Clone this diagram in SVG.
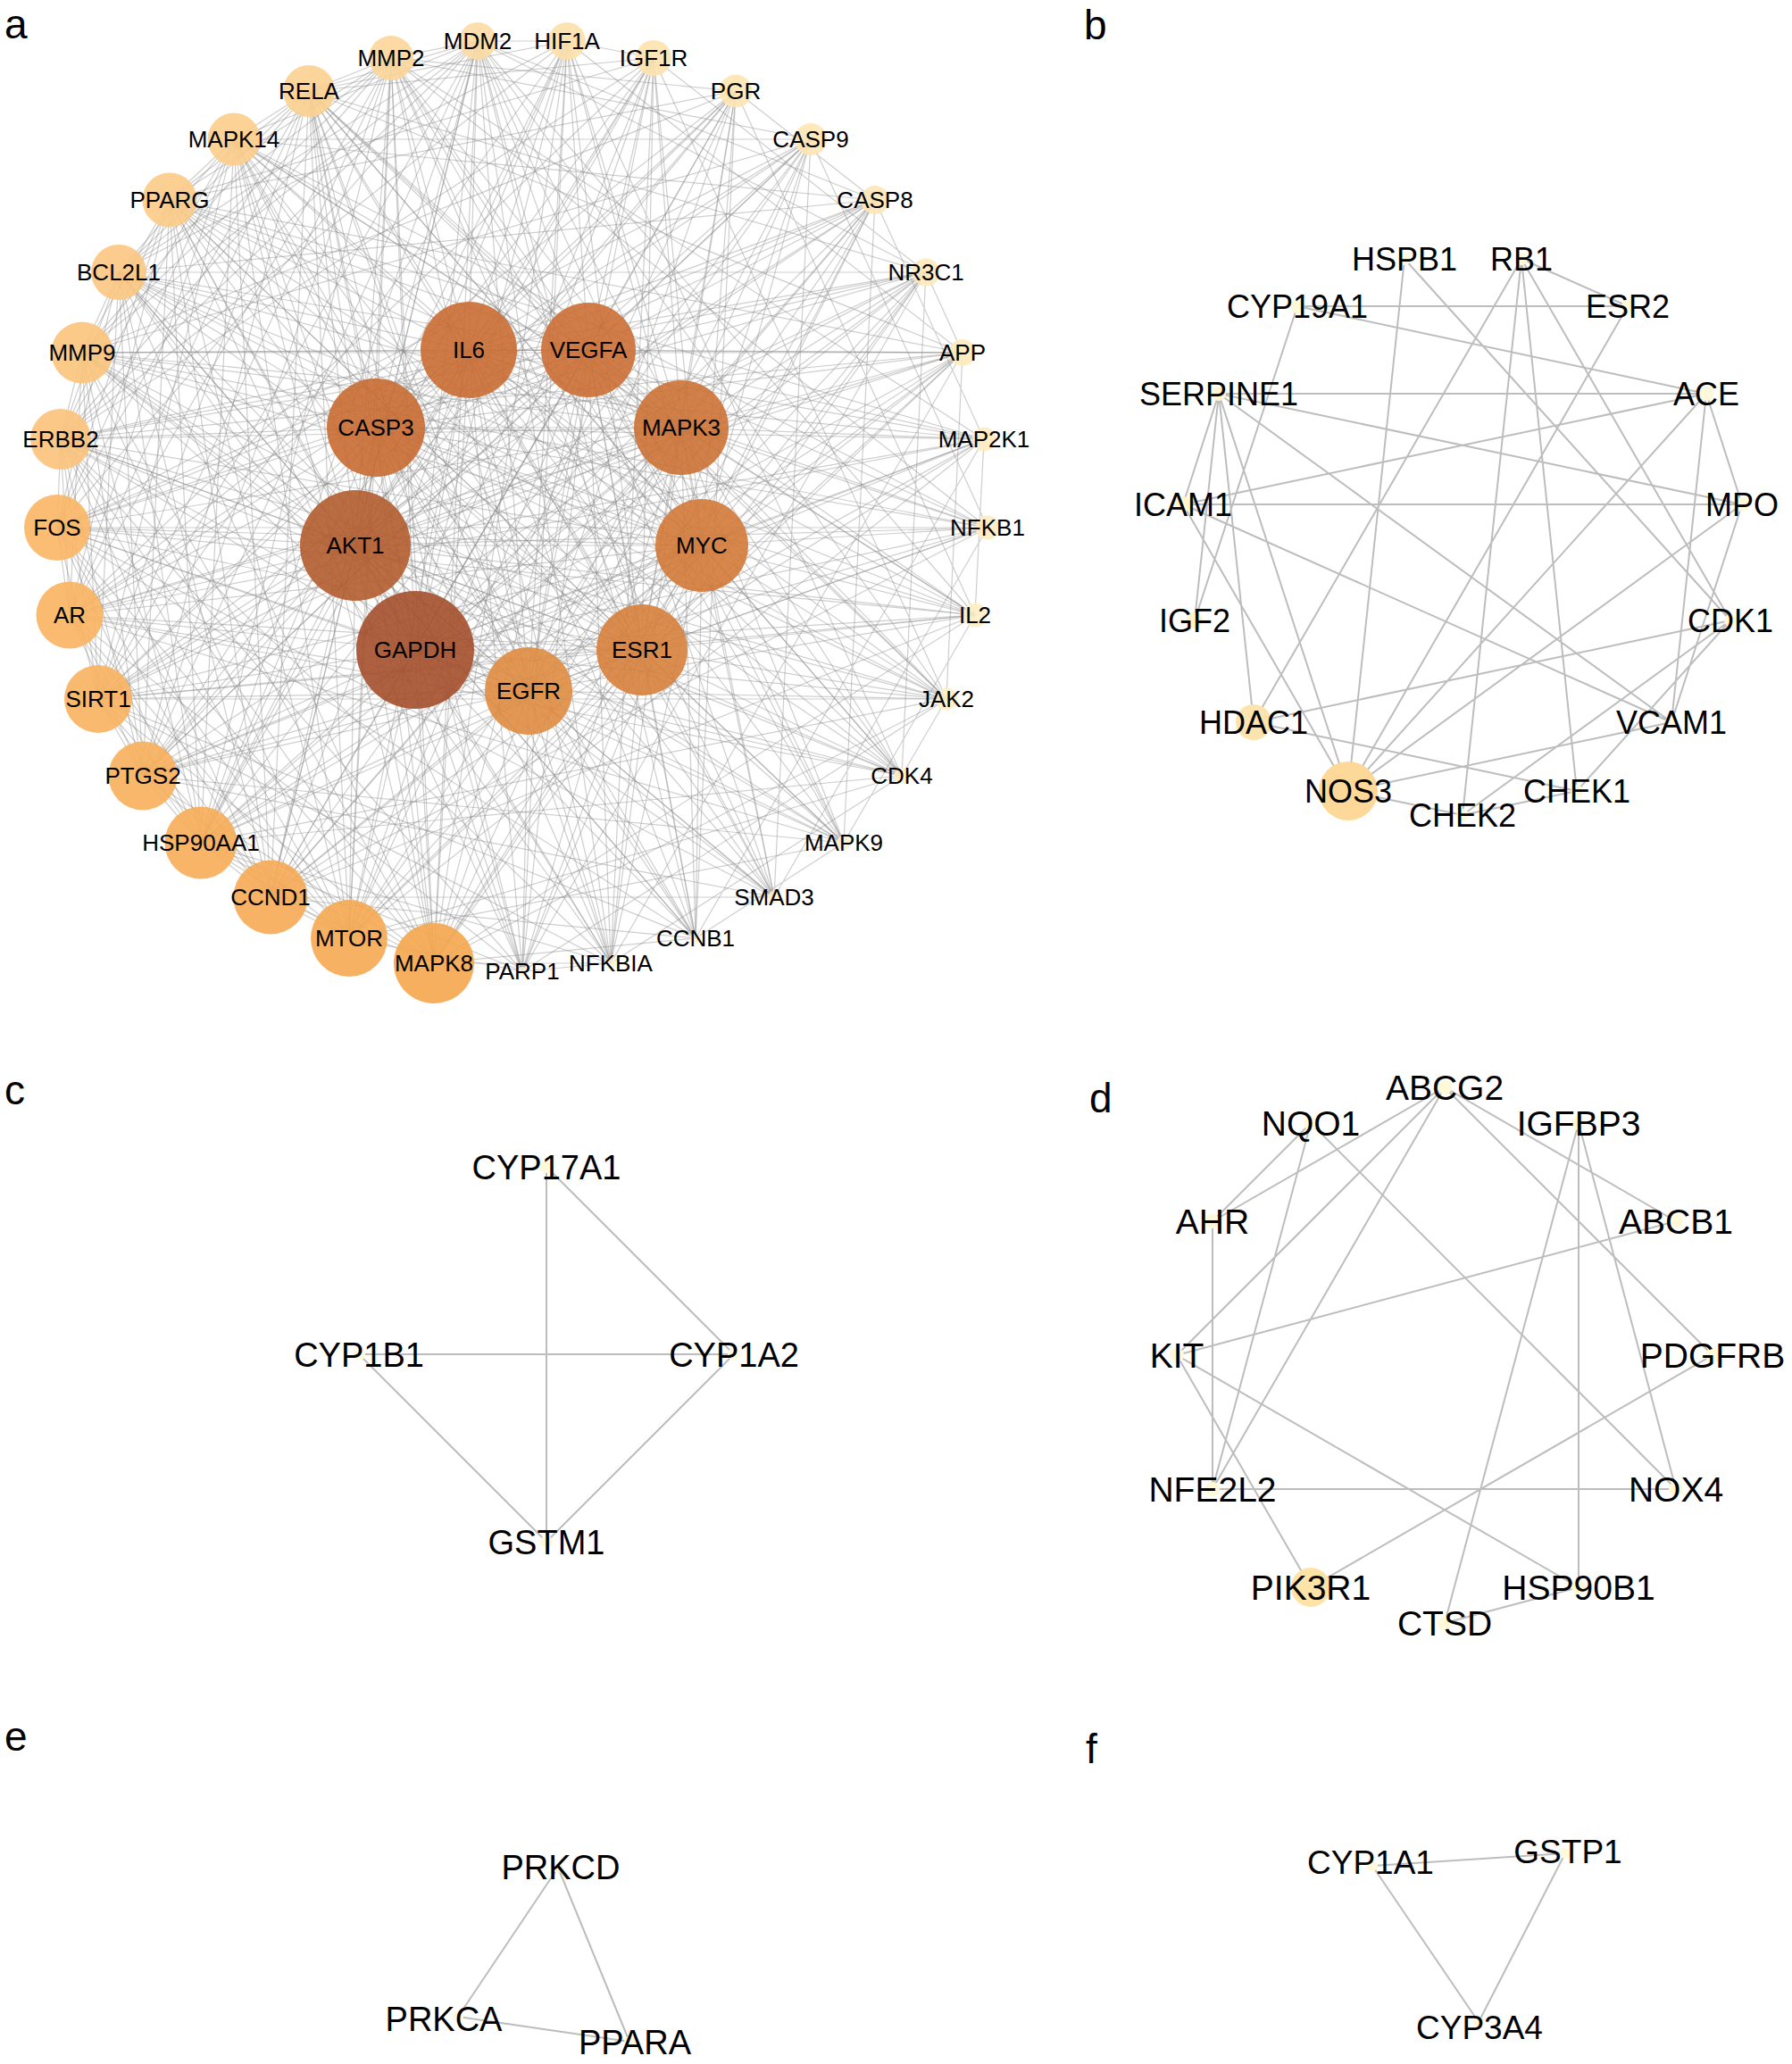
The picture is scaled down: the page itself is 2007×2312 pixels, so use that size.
<svg xmlns="http://www.w3.org/2000/svg" width="2007" height="2312" viewBox="0 0 2007 2312">
<style>
text{font-family:"Liberation Sans",Arial,sans-serif;fill:#000;text-anchor:middle}
.pl{font-size:46px;text-anchor:start}
.la{font-size:26px}
.lb{font-size:36px}
.lc{font-size:38px}
.ld{font-size:39px}
.le{font-size:38px}
.lf{font-size:37px}
.ea{fill:none;stroke:#8a8a8a;stroke-opacity:.42;stroke-width:1.2}
.e{fill:none;stroke:#bdbdbd;stroke-width:2}
.na{fill-opacity:.9}
.sm{fill:#fff9da}
</style>
<rect width="2007" height="2312" fill="#fff"/>
<g id="panel-labels">
<text class="pl" x="5" y="43">a</text>
<text class="pl" x="1214" y="44">b</text>
<text class="pl" x="5" y="1237">c</text>
<text class="pl" x="1220" y="1246">d</text>
<text class="pl" x="5" y="1961">e</text>
<text class="pl" x="1216" y="1975">f</text>
</g>
<g id="connectors">
<g id="edges-a">
<path class="ea" d="M659 392L763 479L786 611L719 728L592 774L465 728L398 611L421 479L525 392Z"/>
<path class="ea" d="M659 392L786 611L592 774L398 611L525 392L763 479L719 728L465 728L421 479Z"/>
<path class="ea" d="M659 392L592 774L525 392L719 728L421 479L786 611L398 611L763 479L465 728Z"/>
<path class="ea" d="M659 392L719 728L398 611ZM763 479L592 774L421 479ZM786 611L465 728L525 392Z"/>
<path class="ea" d="M635 46L659 392L732 65M824 102L659 392L908 156M980 224L659 392L1037 305M1078 395L659 392L1102 492M1106 591L659 392L1092 689M1060 783L659 392L1010 869M945 944L659 392L867 1005M779 1051L659 392L684 1079M585 1088L659 392L486 1079M391 1051L659 392L303 1005M225 944L659 392L160 869M110 783L659 392L78 689M64 591L659 392L68 492M92 395L659 392L133 305M190 224L659 392L262 156M346 102L659 392L438 65M535 46L659 392"/>
<path class="ea" d="M635 46L763 479L732 65M824 102L763 479L908 156M980 224L763 479L1037 305M1078 395L763 479L1102 492M1106 591L763 479L1092 689M1060 783L763 479L1010 869M945 944L763 479L867 1005M779 1051L763 479L684 1079M585 1088L763 479L486 1079M391 1051L763 479L303 1005M225 944L763 479L160 869M110 783L763 479L78 689M64 591L763 479L68 492M92 395L763 479L133 305M190 224L763 479L262 156M346 102L763 479L438 65M535 46L763 479"/>
<path class="ea" d="M635 46L786 611L732 65M824 102L786 611L908 156M980 224L786 611L1037 305M1078 395L786 611L1102 492M1106 591L786 611L1092 689M1060 783L786 611L1010 869M945 944L786 611L867 1005M779 1051L786 611L684 1079M585 1088L786 611L486 1079M391 1051L786 611L303 1005M225 944L786 611L160 869M110 783L786 611L78 689M64 591L786 611L68 492M92 395L786 611L133 305M190 224L786 611L262 156M346 102L786 611L438 65M535 46L786 611"/>
<path class="ea" d="M635 46L719 728L732 65M824 102L719 728L908 156M980 224L719 728L1037 305M1078 395L719 728L1102 492M1106 591L719 728L1092 689M1060 783L719 728L1010 869M945 944L719 728L867 1005M779 1051L719 728L684 1079M585 1088L719 728L486 1079M391 1051L719 728L303 1005M225 944L719 728L160 869M110 783L719 728L78 689M64 591L719 728L68 492M92 395L719 728L133 305M190 224L719 728L262 156M346 102L719 728L438 65M535 46L719 728"/>
<path class="ea" d="M635 46L592 774L732 65M824 102L592 774L908 156M980 224L592 774L1037 305M1078 395L592 774L1102 492M1106 591L592 774L1092 689M1060 783L592 774L1010 869M945 944L592 774L867 1005M779 1051L592 774L684 1079M585 1088L592 774L486 1079M391 1051L592 774L303 1005M225 944L592 774L160 869M110 783L592 774L78 689M64 591L592 774L68 492M92 395L592 774L133 305M190 224L592 774L262 156M346 102L592 774L438 65M535 46L592 774"/>
<path class="ea" d="M635 46L465 728L732 65M824 102L465 728L908 156M980 224L465 728L1037 305M1078 395L465 728L1102 492M1106 591L465 728L1092 689M1060 783L465 728L1010 869M945 944L465 728L867 1005M779 1051L465 728L684 1079M585 1088L465 728L486 1079M391 1051L465 728L303 1005M225 944L465 728L160 869M110 783L465 728L78 689M64 591L465 728L68 492M92 395L465 728L133 305M190 224L465 728L262 156M346 102L465 728L438 65M535 46L465 728"/>
<path class="ea" d="M635 46L398 611L732 65M824 102L398 611L908 156M980 224L398 611L1037 305M1078 395L398 611L1102 492M1106 591L398 611L1092 689M1060 783L398 611L1010 869M945 944L398 611L867 1005M779 1051L398 611L684 1079M585 1088L398 611L486 1079M391 1051L398 611L303 1005M225 944L398 611L160 869M110 783L398 611L78 689M64 591L398 611L68 492M92 395L398 611L133 305M190 224L398 611L262 156M346 102L398 611L438 65M535 46L398 611"/>
<path class="ea" d="M635 46L421 479L732 65M824 102L421 479L908 156M980 224L421 479L1037 305M1078 395L421 479L1102 492M1106 591L421 479L1092 689M1060 783L421 479L1010 869M945 944L421 479L867 1005M779 1051L421 479L684 1079M585 1088L421 479L486 1079M391 1051L421 479L303 1005M225 944L421 479L160 869M110 783L421 479L78 689M64 591L421 479L68 492M92 395L421 479L133 305M190 224L421 479L262 156M346 102L421 479L438 65M535 46L421 479"/>
<path class="ea" d="M635 46L525 392L732 65M824 102L525 392L908 156M980 224L525 392L1037 305M1078 395L525 392L1102 492M1106 591L525 392L1092 689M1060 783L525 392L1010 869M945 944L525 392L867 1005M779 1051L525 392L684 1079M585 1088L525 392L486 1079M391 1051L525 392L303 1005M225 944L525 392L160 869M110 783L525 392L78 689M64 591L525 392L68 492M92 395L525 392L133 305M190 224L525 392L262 156M346 102L525 392L438 65M535 46L525 392"/>
<path class="ea" d="M303 1005L486 1079L225 944M160 869L486 1079L110 783M64 591L486 1079L68 492M92 395L486 1079L133 305M262 156L486 1079L346 102M438 65L486 1079L535 46M635 46L486 1079L980 224M1037 305L486 1079L1092 689M1060 783L486 1079L779 1051M684 1079L486 1079"/>
<path class="ea" d="M303 1005L391 1051L225 944M160 869L391 1051L78 689M64 591L391 1051L68 492M92 395L391 1051L190 224M262 156L391 1051L346 102M438 65L391 1051L732 65M824 102L391 1051L1078 395M1102 492L391 1051L1010 869M945 944L391 1051L585 1088"/>
<path class="ea" d="M225 944L303 1005L110 783M78 689L303 1005L64 591M68 492L303 1005L133 305M190 224L303 1005L262 156M346 102L303 1005L535 46M908 156L303 1005L980 224M1106 591L303 1005L1092 689M867 1005L303 1005L779 1051"/>
<path class="ea" d="M160 869L225 944L110 783M78 689L225 944L64 591M92 395L225 944L133 305M190 224L225 944L262 156M438 65L225 944L535 46M635 46L225 944L732 65M1037 305L225 944L1078 395M1060 783L225 944L1010 869M684 1079L225 944L585 1088"/>
<path class="ea" d="M110 783L160 869L78 689M68 492L160 869L92 395M133 305L160 869L190 224M346 102L160 869L438 65M535 46L160 869L824 102M908 156L160 869L1102 492M1106 591L160 869L945 944M867 1005L160 869"/>
<path class="ea" d="M64 591L110 783L68 492M92 395L110 783L133 305M262 156L110 783L346 102M438 65L110 783L535 46M635 46L110 783L980 224M1037 305L110 783L1092 689M1060 783L110 783L779 1051M684 1079L110 783"/>
<path class="ea" d="M64 591L78 689L68 492M92 395L78 689L190 224M262 156L78 689L346 102M438 65L78 689L732 65M824 102L78 689L1078 395M1102 492L78 689L1010 869M945 944L78 689L585 1088"/>
<path class="ea" d="M68 492L64 591L133 305M190 224L64 591L262 156M346 102L64 591L535 46M908 156L64 591L980 224M1106 591L64 591L1092 689M867 1005L64 591L779 1051"/>
<path class="ea" d="M92 395L68 492L133 305M190 224L68 492L262 156M438 65L68 492L535 46M635 46L68 492L732 65M1037 305L68 492L1078 395M1060 783L68 492L1010 869M684 1079L68 492L585 1088"/>
<path class="ea" d="M133 305L92 395L190 224M346 102L92 395L438 65M535 46L92 395L824 102M908 156L92 395L1078 395M1102 492L92 395L1106 591M945 944L92 395L867 1005"/>
<path class="ea" d="M262 156L133 305L346 102M438 65L133 305L535 46M635 46L133 305L980 224M1037 305L133 305L1092 689M1060 783L133 305L779 1051M684 1079L133 305"/>
<path class="ea" d="M262 156L190 224L346 102M438 65L190 224L732 65M824 102L190 224L1078 395M1102 492L190 224L1010 869M945 944L190 224L585 1088"/>
<path class="ea" d="M346 102L262 156L535 46M908 156L262 156L980 224M1106 591L262 156L1092 689M867 1005L262 156L779 1051"/>
<path class="ea" d="M438 65L346 102L535 46M635 46L346 102L732 65M1037 305L346 102L1078 395M1060 783L346 102L1010 869M684 1079L346 102L585 1088"/>
<path class="ea" d="M535 46L438 65L824 102M908 156L438 65L1102 492M1106 591L438 65L945 944M867 1005L438 65"/>
<path class="ea" d="M635 46L535 46L980 224M1037 305L535 46L1092 689M1060 783L535 46L779 1051M684 1079L535 46"/>
<path class="ea" d="M732 65L635 46L1078 395M1010 869L635 46L585 1088M1037 305L732 65L1060 783M684 1079L732 65M980 224L824 102L1092 689M779 1051L824 102M1106 591L908 156L867 1005M1102 492L980 224L945 944M1078 395L1037 305L1010 869M585 1088L1037 305M1060 783L1078 395L684 1079M1092 689L1102 492L779 1051M1106 591L867 1005M1092 689L945 944M1010 869L1060 783L585 1088M1010 869L684 1079M945 944L779 1051M684 1079L585 1088"/>
</g>
<g id="edges-b">
<path class="e" d="M1704 290L1823 343M1704 290L1404 809M1704 290L1638 913M1704 290L1766 886M1704 290L1938 695M1573 290L1510 886M1573 290L1938 695M1453 343L1823 343M1453 343L1911 441M1453 343L1338 695M1823 343L1510 886M1365 441L1911 441M1365 441L1951 565M1365 441L1325 565M1365 441L1338 695M1365 441L1404 809M1365 441L1510 886M1365 441L1872 809M1911 441L1325 565M1911 441L1510 886M1911 441L1951 565M1911 441L1872 809M1325 565L1951 565M1325 565L1510 886M1325 565L1872 809M1951 565L1510 886M1951 565L1872 809M1938 695L1404 809M1938 695L1638 913M1938 695L1766 886M1872 809L1510 886M1404 809L1766 886M1510 886L1638 913M1638 913L1766 886"/>
</g>
<g id="edges-c">
<path class="e" d="M612 1307L612 1727M612 1307L822 1517M402 1517L822 1517M402 1517L612 1727M822 1517L612 1727"/>
</g>
<g id="edges-d">
<path class="e" d="M1618 1218L1358 1368M1618 1218L1318 1518M1618 1218L1358 1668M1618 1218L1877 1368M1618 1218L1918 1518M1468 1258L1358 1368M1468 1258L1358 1668M1468 1258L1877 1668M1768 1258L1618 1818M1768 1258L1768 1778M1768 1258L1877 1668M1358 1368L1358 1668M1877 1368L1318 1518M1318 1518L1468 1778M1318 1518L1768 1778M1918 1518L1468 1778M1358 1668L1877 1668M1768 1778L1618 1818"/>
</g>
<g id="edges-e">
<path class="e" d="M625 2092L513 2259M625 2092L705 2287M513 2259L705 2287"/>
</g>
<g id="edges-f">
<path class="e" d="M1537 2090L1753 2076M1537 2090L1656 2265M1753 2076L1656 2265"/>
</g>
</g>
<g id="nodes-a">
<g id="a-HIF1A"><circle class="na" cx="635" cy="46" r="21" fill="#fde0aa"/><text class="la" x="635" y="55">HIF1A</text></g>
<g id="a-IGF1R"><circle class="na" cx="732" cy="65" r="20" fill="#fde2ae"/><text class="la" x="732" y="74">IGF1R</text></g>
<g id="a-PGR"><circle class="na" cx="824" cy="102" r="18.5" fill="#fee4b2"/><text class="la" x="824" y="111">PGR</text></g>
<g id="a-CASP9"><circle class="na" cx="908" cy="156" r="18" fill="#fee6b5"/><text class="la" x="908" y="165">CASP9</text></g>
<g id="a-CASP8"><circle class="na" cx="980" cy="224" r="16" fill="#fee7b8"/><text class="la" x="980" y="233">CASP8</text></g>
<g id="a-NR3C1"><circle class="na" cx="1037" cy="305" r="15.5" fill="#fee9bb"/><text class="la" x="1037" y="314">NR3C1</text></g>
<g id="a-APP"><circle class="na" cx="1078" cy="395" r="15" fill="#feeabd"/><text class="la" x="1078" y="404">APP</text></g>
<g id="a-MAP2K1"><circle class="na" cx="1102" cy="492" r="13.5" fill="#feebc0"/><text class="la" x="1102" y="501">MAP2K1</text></g>
<g id="a-NFKB1"><circle class="na" cx="1106" cy="591" r="13.5" fill="#feecc2"/><text class="la" x="1106" y="600">NFKB1</text></g>
<g id="a-IL2"><circle class="na" cx="1092" cy="689" r="13.5" fill="#ffedc4"/><text class="la" x="1092" y="698">IL2</text></g>
<g id="a-JAK2"><circle class="na" cx="1060" cy="783" r="12.5" fill="#ffeec6"/><text class="la" x="1060" y="792">JAK2</text></g>
<g id="a-CDK4"><circle class="na" cx="1010" cy="869" r="9" fill="#ffefc9"/><text class="la" x="1010" y="878">CDK4</text></g>
<g id="a-MAPK9"><circle class="na" cx="945" cy="944" r="8" fill="#fff0cb"/><text class="la" x="945" y="953">MAPK9</text></g>
<g id="a-SMAD3"><circle class="na" cx="867" cy="1005" r="7" fill="#fff1cd"/><text class="la" x="867" y="1014">SMAD3</text></g>
<g id="a-CCNB1"><circle class="na" cx="779" cy="1051" r="6" fill="#fff2cf"/><text class="la" x="779" y="1060">CCNB1</text></g>
<g id="a-NFKBIA"><circle class="na" cx="684" cy="1079" r="6" fill="#fff2d0"/><text class="la" x="684" y="1088">NFKBIA</text></g>
<g id="a-PARP1"><circle class="na" cx="585" cy="1088" r="5" fill="#fff3d2"/><text class="la" x="585" y="1097">PARP1</text></g>
<g id="a-MAPK8"><circle class="na" cx="486" cy="1079" r="45" fill="#f5a54e"/><text class="la" x="486" y="1088">MAPK8</text></g>
<g id="a-MTOR"><circle class="na" cx="391" cy="1051" r="43" fill="#f6a851"/><text class="la" x="391" y="1060">MTOR</text></g>
<g id="a-CCND1"><circle class="na" cx="303" cy="1005" r="41.5" fill="#f7aa54"/><text class="la" x="303" y="1014">CCND1</text></g>
<g id="a-HSP90AA1"><circle class="na" cx="225" cy="944" r="40.5" fill="#f7ac57"/><text class="la" x="225" y="953">HSP90AA1</text></g>
<g id="a-PTGS2"><circle class="na" cx="160" cy="869" r="38.5" fill="#f8af5b"/><text class="la" x="160" y="878">PTGS2</text></g>
<g id="a-SIRT1"><circle class="na" cx="110" cy="783" r="38" fill="#f8b15e"/><text class="la" x="110" y="792">SIRT1</text></g>
<g id="a-AR"><circle class="na" cx="78" cy="689" r="37.5" fill="#f9b461"/><text class="la" x="78" y="698">AR</text></g>
<g id="a-FOS"><circle class="na" cx="64" cy="591" r="37" fill="#f9b664"/><text class="la" x="64" y="600">FOS</text></g>
<g id="a-ERBB2"><circle class="na" cx="68" cy="492" r="34" fill="#fbc27a"/><text class="la" x="68" y="501">ERBB2</text></g>
<g id="a-MMP9"><circle class="na" cx="92" cy="395" r="34.5" fill="#fbc47c"/><text class="la" x="92" y="404">MMP9</text></g>
<g id="a-BCL2L1"><circle class="na" cx="133" cy="305" r="31" fill="#fbc782"/><text class="la" x="133" y="314">BCL2L1</text></g>
<g id="a-PPARG"><circle class="na" cx="190" cy="224" r="30.5" fill="#fcca86"/><text class="la" x="190" y="233">PPARG</text></g>
<g id="a-MAPK14"><circle class="na" cx="262" cy="156" r="29.5" fill="#fccd8b"/><text class="la" x="262" y="165">MAPK14</text></g>
<g id="a-RELA"><circle class="na" cx="346" cy="102" r="29" fill="#fcd08f"/><text class="la" x="346" y="111">RELA</text></g>
<g id="a-MMP2"><circle class="na" cx="438" cy="65" r="25" fill="#fdd699"/><text class="la" x="438" y="74">MMP2</text></g>
<g id="a-MDM2"><circle class="na" cx="535" cy="46" r="21" fill="#fddca4"/><text class="la" x="535" y="55">MDM2</text></g>
<g id="a-VEGFA"><circle class="na" cx="659" cy="392" r="53" fill="#cb6f35"/><text class="la" x="659" y="401">VEGFA</text></g>
<g id="a-MAPK3"><circle class="na" cx="763" cy="479" r="53" fill="#cc7236"/><text class="la" x="763" y="488">MAPK3</text></g>
<g id="a-MYC"><circle class="na" cx="786" cy="611" r="52" fill="#d47a39"/><text class="la" x="786" y="620">MYC</text></g>
<g id="a-ESR1"><circle class="na" cx="719" cy="728" r="51" fill="#d77f3c"/><text class="la" x="719" y="737">ESR1</text></g>
<g id="a-EGFR"><circle class="na" cx="592" cy="774" r="49" fill="#e08c41"/><text class="la" x="592" y="783">EGFR</text></g>
<g id="a-GAPDH"><circle class="na" cx="465" cy="728" r="66" fill="#a5502b"/><text class="la" x="465" y="737">GAPDH</text></g>
<g id="a-AKT1"><circle class="na" cx="398" cy="611" r="62" fill="#b25c2f"/><text class="la" x="398" y="620">AKT1</text></g>
<g id="a-CASP3"><circle class="na" cx="421" cy="479" r="55" fill="#c86b33"/><text class="la" x="421" y="488">CASP3</text></g>
<g id="a-IL6"><circle class="na" cx="525" cy="392" r="54" fill="#c96d34"/><text class="la" x="525" y="401">IL6</text></g>
</g>
<g id="nodes-b">
<g id="b-RB1"><circle class="sm" cx="1704" cy="290" r="7"/><text class="lb" x="1704" y="303">RB1</text></g>
<g id="b-ESR2"><circle class="sm" cx="1823" cy="343" r="7"/><text class="lb" x="1823" y="356">ESR2</text></g>
<g id="b-ACE"><circle class="sm" cx="1911" cy="441" r="8"/><text class="lb" x="1911" y="454">ACE</text></g>
<g id="b-MPO"><circle class="sm" cx="1951" cy="565" r="8"/><text class="lb" x="1951" y="578">MPO</text></g>
<g id="b-CDK1"><circle class="sm" cx="1938" cy="695" r="7"/><text class="lb" x="1938" y="708">CDK1</text></g>
<g id="b-VCAM1"><circle class="sm" cx="1872" cy="809" r="7"/><text class="lb" x="1872" y="822">VCAM1</text></g>
<g id="b-CHEK1"><circle class="sm" cx="1766" cy="886" r="7"/><text class="lb" x="1766" y="899">CHEK1</text></g>
<g id="b-CHEK2"><circle class="sm" cx="1638" cy="913" r="7"/><text class="lb" x="1638" y="926">CHEK2</text></g>
<g id="b-NOS3"><circle cx="1510" cy="886" r="33" fill="#fdd898"/><text class="lb" x="1510" y="899">NOS3</text></g>
<g id="b-HDAC1"><circle cx="1404" cy="809" r="20" fill="#fde3ad"/><text class="lb" x="1404" y="822">HDAC1</text></g>
<g id="b-IGF2"><circle cx="1338" cy="695" r="9" fill="#fff4c8"/><text class="lb" x="1338" y="708">IGF2</text></g>
<g id="b-ICAM1"><circle cx="1325" cy="565" r="9" fill="#fff6d0"/><text class="lb" x="1325" y="578">ICAM1</text></g>
<g id="b-SERPINE1"><circle cx="1365" cy="441" r="8" fill="#fff6d0"/><text class="lb" x="1365" y="454">SERPINE1</text></g>
<g id="b-CYP19A1"><circle class="sm" cx="1453" cy="343" r="8"/><text class="lb" x="1453" y="356">CYP19A1</text></g>
<g id="b-HSPB1"><circle class="sm" cx="1573" cy="290" r="7"/><text class="lb" x="1573" y="303">HSPB1</text></g>
</g>
<g id="nodes-c">
<g id="c-CYP17A1"><circle class="sm" cx="612" cy="1307" r="7"/><text class="lc" x="612" y="1321">CYP17A1</text></g>
<g id="c-CYP1B1"><circle class="sm" cx="402" cy="1517" r="7"/><text class="lc" x="402" y="1531">CYP1B1</text></g>
<g id="c-CYP1A2"><circle class="sm" cx="822" cy="1517" r="7"/><text class="lc" x="822" y="1531">CYP1A2</text></g>
<g id="c-GSTM1"><circle class="sm" cx="612" cy="1727" r="7"/><text class="lc" x="612" y="1741">GSTM1</text></g>
</g>
<g id="nodes-d">
<g id="d-ABCG2"><circle class="sm" cx="1618" cy="1218" r="8"/><text class="ld" x="1618" y="1232">ABCG2</text></g>
<g id="d-IGFBP3"><circle class="sm" cx="1768" cy="1258" r="8"/><text class="ld" x="1768" y="1272">IGFBP3</text></g>
<g id="d-ABCB1"><circle class="sm" cx="1877" cy="1368" r="8"/><text class="ld" x="1877" y="1382">ABCB1</text></g>
<g id="d-PDGFRB"><circle class="sm" cx="1918" cy="1518" r="8"/><text class="ld" x="1918" y="1532">PDGFRB</text></g>
<g id="d-NOX4"><circle class="sm" cx="1877" cy="1668" r="8"/><text class="ld" x="1877" y="1682">NOX4</text></g>
<g id="d-HSP90B1"><circle class="sm" cx="1768" cy="1778" r="8"/><text class="ld" x="1768" y="1792">HSP90B1</text></g>
<g id="d-CTSD"><circle class="sm" cx="1618" cy="1818" r="8"/><text class="ld" x="1618" y="1832">CTSD</text></g>
<g id="d-PIK3R1"><circle cx="1468" cy="1778" r="22" fill="#fde3a6"/><text class="ld" x="1468" y="1792">PIK3R1</text></g>
<g id="d-NFE2L2"><circle class="sm" cx="1358" cy="1668" r="8"/><text class="ld" x="1358" y="1682">NFE2L2</text></g>
<g id="d-KIT"><circle class="sm" cx="1318" cy="1518" r="8"/><text class="ld" x="1318" y="1532">KIT</text></g>
<g id="d-AHR"><circle class="sm" cx="1358" cy="1368" r="8"/><text class="ld" x="1358" y="1382">AHR</text></g>
<g id="d-NQO1"><circle class="sm" cx="1468" cy="1258" r="8"/><text class="ld" x="1468" y="1272">NQO1</text></g>
</g>
<g id="nodes-e">
<g id="e-PRKCD"><circle class="sm" cx="625" cy="2092" r="6"/><text class="le" x="628" y="2105">PRKCD</text></g>
<g id="e-PRKCA"><circle class="sm" cx="513" cy="2259" r="6"/><text class="le" x="497" y="2275">PRKCA</text></g>
<g id="e-PPARA"><circle class="sm" cx="705" cy="2287" r="6"/><text class="le" x="711" y="2301">PPARA</text></g>
</g>
<g id="nodes-f">
<g id="f-CYP1A1"><circle class="sm" cx="1537" cy="2090" r="6"/><text class="lf" x="1535" y="2099">CYP1A1</text></g>
<g id="f-GSTP1"><circle class="sm" cx="1753" cy="2076" r="6"/><text class="lf" x="1756" y="2087">GSTP1</text></g>
<g id="f-CYP3A4"><circle class="sm" cx="1656" cy="2265" r="6"/><text class="lf" x="1657" y="2284">CYP3A4</text></g>
</g>
</svg>
